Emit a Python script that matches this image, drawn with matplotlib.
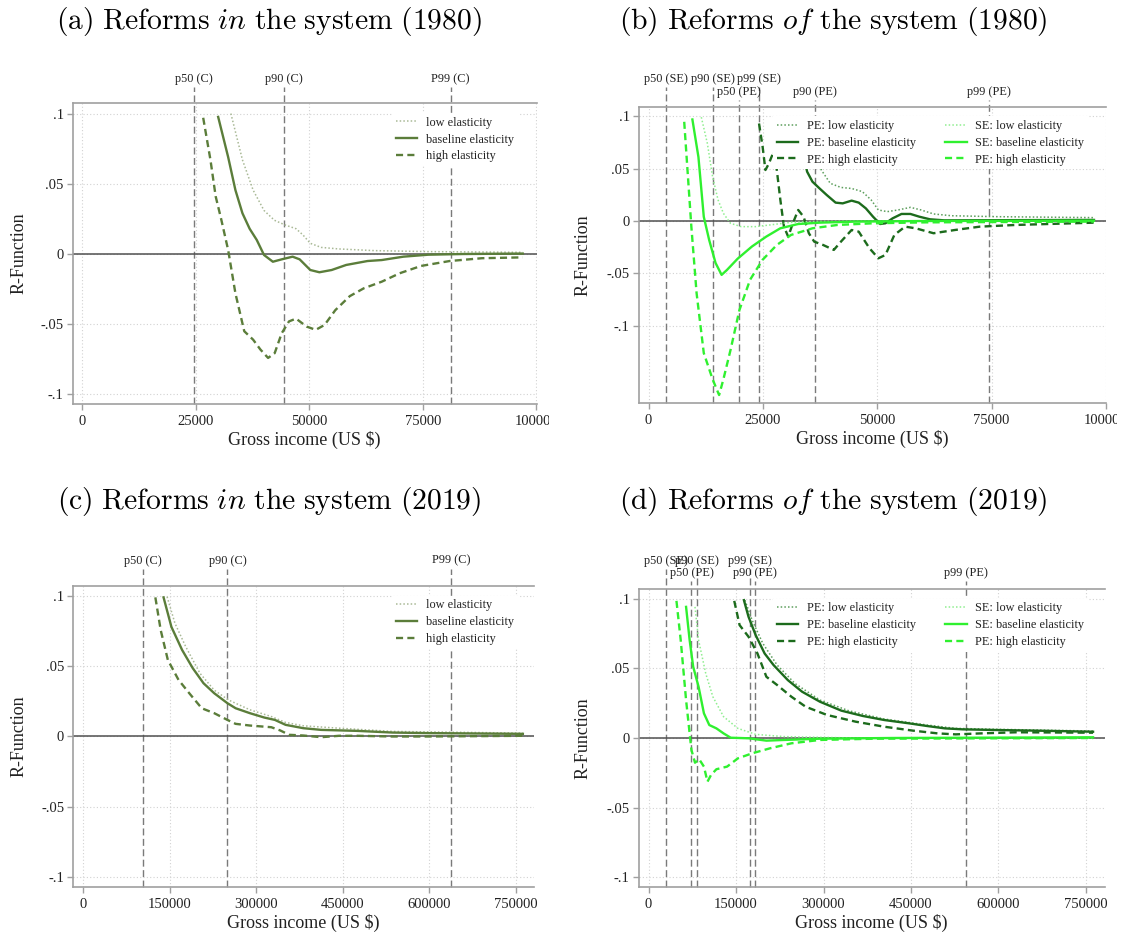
import matplotlib
matplotlib.use('Agg')
import matplotlib.pyplot as plt
from matplotlib.transforms import Bbox, blended_transform_factory

plt.rcParams['font.family'] = ['Liberation Serif', 'DejaVu Serif']
plt.rcParams['mathtext.fontset'] = 'cm'

# ---------------- data ----------------
# Panel (a): reforms in the system, 1980
a_low_x = [32700, 35250, 37600, 40000, 42300, 44700, 47060, 48600, 50200, 52600, 56500, 64400, 76200, 97000]
a_low_y = [0.1, 0.067, 0.0455, 0.031, 0.024, 0.0206, 0.018, 0.0135, 0.0076, 0.0047, 0.0036, 0.0024, 0.0017, 0.0012]
a_base_x = [29900, 32100, 33700, 35250, 36830, 38400, 40000, 41950, 43900, 46300, 47850, 50200, 52200, 54900,
            58100, 62800, 65950, 70700, 76200, 84000, 97000]
a_base_y = [0.0976, 0.069, 0.0455, 0.029, 0.018, 0.010, -0.0007, -0.0055, -0.0038, -0.0019, -0.0038, -0.0114,
            -0.013, -0.0114, -0.0078, -0.005, -0.0043, -0.0019, -0.0005, 0.0, 0.0003]
a_high_x = [26600, 28200, 29350, 30550, 32100, 33700, 35650, 37600, 39200, 40900, 42350, 43900, 45500, 47060,
            49400, 51400, 53350, 55700, 58900, 62000, 65950, 69900, 74600, 80900, 88000, 97000]
a_high_y = [0.097, 0.067, 0.041, 0.025, 0.0028, -0.028, -0.055, -0.061, -0.068, -0.074, -0.0706, -0.0564, -0.048,
            -0.046, -0.0517, -0.054, -0.0505, -0.040, -0.030, -0.0244, -0.0197, -0.0137, -0.0085, -0.005, -0.003,
            -0.0024]
a_pct_x = [24630, 44300, 81130]
a_pct_lab = ['p50 (C)', 'p90 (C)', 'P99 (C)']
a_pct_row = [0, 0, 0]

# Panel (b): reforms of the system, 1980
b_pe_low_x = [36500, 37780, 39730, 42060, 44400, 46740, 48690, 50250, 52200, 54530, 57260, 59590, 62320, 66220,
              76340, 97400]
b_pe_low_y = [0.07, 0.0486, 0.0359, 0.032, 0.031, 0.028, 0.02, 0.0105, 0.0089, 0.0105, 0.013, 0.0105, 0.0067,
              0.005, 0.0041, 0.0032]
b_pe_base_x = [33000, 34670, 35830, 37400, 38950, 40900, 42450, 44400, 45960, 47520, 49080, 50640, 51800, 53360,
               55310, 57260, 59200, 61540, 64660, 97400]
b_pe_base_y = [0.08, 0.047, 0.0375, 0.031, 0.0248, 0.0175, 0.0168, 0.0194, 0.0175, 0.012, 0.0041, -0.0029,
               -0.0022, 0.0025, 0.0067, 0.0067, 0.0041, 0.0016, 0.0006, 0.001]
b_pe_high_x = [24150, 24930, 25550, 26330, 26870, 27400, 28040, 28820, 29600, 30530, 31550, 32720, 33890, 35050,
               36220, 38170, 40510, 42070, 44400, 45960, 48300, 50250, 51800, 53750, 56090, 58430, 62320, 66990,
               72450, 80240, 97400]
b_pe_high_y = [0.093, 0.071, 0.0486, 0.055, 0.061, 0.066, 0.0486, 0.02, -0.0054, -0.015, -0.0022, 0.0105, 0.0041,
               -0.0117, -0.0197, -0.0229, -0.0276, -0.0197, -0.0086, -0.0102, -0.026, -0.0356, -0.0324, -0.0133,
               -0.0054, -0.007, -0.0117, -0.0086, -0.0054, -0.0038, -0.0016]
b_se_low_x = [11530, 12850, 14000, 15200, 16360, 17900, 20250, 23370, 26500, 31160, 37400, 97400]
b_se_low_y = [0.099, 0.074, 0.042, 0.02, 0.0073, -0.0022, -0.0054, -0.0054, -0.0038, -0.0013, -0.0003, 0.0]
b_se_base_x = [9580, 10900, 12070, 13240, 14640, 15970, 17140, 19470, 22590, 25700, 28800, 32700, 37400, 45200,
               60800, 97400]
b_se_base_y = [0.0968, 0.061, 0.004, -0.018, -0.040, -0.0514, -0.0467, -0.036, -0.0244, -0.015, -0.007, -0.0029,
               -0.0016, -0.0006, 0.0, 0.0003]
b_se_high_x = [7790, 9350, 10500, 12070, 14000, 15420, 16360, 17920, 19860, 22200, 24930, 28040, 31160, 35830,
               41290, 49080, 60760, 97400]
b_se_high_y = [0.0946, -0.0054, -0.069, -0.126, -0.151, -0.166, -0.151, -0.123, -0.085, -0.056, -0.037, -0.0229,
               -0.0133, -0.007, -0.0038, -0.0022, -0.0013, -0.0006]
b_pct_x = [3900, 14060, 24060, 19770, 36400, 74450]
b_pct_lab = ['p50 (SE)', 'p90 (SE)', 'p99 (SE)', 'p50 (PE)', 'p90 (PE)', 'p99 (PE)']
b_pct_row = [0, 0, 0, 1, 1, 1]

# Panel (c): reforms in the system, 2019
c_low_x = [145800, 159400, 178000, 202700, 227400, 252100, 289200, 326300, 351000, 381900, 443700, 536400, 762000]
c_low_y = [0.0995, 0.0806, 0.064, 0.045, 0.033, 0.026, 0.019, 0.0142, 0.010, 0.0076, 0.0059, 0.0036, 0.0024]
c_base_x = [139700, 153300, 171800, 190300, 208900, 227400, 250300, 264500, 289200, 314000, 332500, 351000,
            381900, 412800, 474600, 536400, 598200, 762000]
c_base_y = [0.099, 0.078, 0.0616, 0.0486, 0.0379, 0.0308, 0.0237, 0.0201, 0.0166, 0.0135, 0.0118, 0.0083, 0.0059,
            0.0047, 0.004, 0.0028, 0.0024, 0.0019]
c_high_x = [125500, 134700, 147100, 165600, 184200, 205800, 227400, 250300, 264500, 289200, 326300, 341800,
            357200, 381900, 412800, 443700, 474600, 536400, 598200, 762000]
c_high_y = [0.099, 0.0758, 0.0545, 0.0403, 0.0308, 0.0201, 0.0166, 0.0118, 0.009, 0.0078, 0.0066, 0.0043, 0.0012,
            0.0007, -0.0005, 0.0005, 0.0005, 0.0, 0.0, 0.0005]
c_pct_x = [103900, 250400, 637500]
c_pct_lab = ['p50 (C)', 'p90 (C)', 'P99 (C)']
c_pct_row = [0, 0, 0]

# Panel (d): reforms of the system, 2019
d_pe_low_x = [165300, 177500, 195900, 220400, 251000, 293900, 342800, 404000, 477500, 526500, 600000, 762200]
d_pe_low_y = [0.0988, 0.0845, 0.0678, 0.0523, 0.0391, 0.0272, 0.0196, 0.0136, 0.0093, 0.0069, 0.0062, 0.005]
d_pe_base_x = [163500, 171400, 183700, 199000, 214300, 238800, 263200, 293900, 330600, 367300, 404000, 446900,
               477500, 508100, 538700, 600000, 661200, 762200]
d_pe_base_y = [0.0988, 0.0869, 0.0737, 0.0606, 0.0523, 0.0415, 0.0332, 0.026, 0.0196, 0.0158, 0.0129, 0.0105,
               0.0086, 0.0069, 0.0062, 0.0057, 0.0053, 0.0045]
d_pe_high_x = [146900, 156100, 171400, 186700, 202000, 220400, 244900, 269400, 306100, 355100, 404000, 453000,
               495900, 526500, 569400, 630600, 762200]
d_pe_high_y = [0.0983, 0.0809, 0.0726, 0.0606, 0.0439, 0.038, 0.0296, 0.0224, 0.0165, 0.0117, 0.0081, 0.0053,
               0.0033, 0.0026, 0.0033, 0.0041, 0.0038]
d_se_low_x = [79600, 85700, 98000, 110200, 128600, 153100, 183700, 232600, 355100, 762200]
d_se_low_y = [0.094, 0.0702, 0.0463, 0.0296, 0.0153, 0.0069, 0.0026, 0.001, 0.0, 0.0]
d_se_base_x = [64300, 70400, 76500, 85700, 94900, 104100, 116300, 128600, 140800, 171400, 202000, 232600, 293900,
               416300, 762200]
d_se_base_y = [0.094, 0.0702, 0.0511, 0.0368, 0.0177, 0.0093, 0.0069, 0.0033, 0.0002, -0.0002, -0.0019, -0.0014,
               -0.0005, 0.0, 0.0005]
d_se_high_x = [47800, 55100, 64300, 70400, 73500, 79600, 86900, 94900, 101000, 107100, 116300, 134700, 153100,
               177500, 208100, 244900, 293900, 385700, 762200]
d_se_high_y = [0.0983, 0.0702, 0.0272, 0.0033, -0.0086, -0.0177, -0.0153, -0.0205, -0.0313, -0.0265, -0.0224,
               -0.0205, -0.0146, -0.011, -0.0074, -0.0038, -0.0014, -0.0005, 0.0]
d_pct_x = [29400, 83300, 173300, 73500, 182400, 543700]
d_pct_lab = ['p50 (SE)', 'p90 (SE)', 'p99 (SE)', 'p50 (PE)', 'p90 (PE)', 'p99 (PE)']
d_pct_row = [0, 0, 0, 1, 1, 1]

titles = [r'$\mathrm{(a)\ Reforms\ }\mathit{in}\mathrm{\ the\ system\ (1980)}$',
          r'$\mathrm{(b)\ Reforms\ }\mathit{of}\mathrm{\ the\ system\ (1980)}$',
          r'$\mathrm{(c)\ Reforms\ }\mathit{in}\mathrm{\ the\ system\ (2019)}$',
          r'$\mathrm{(d)\ Reforms\ }\mathit{of}\mathrm{\ the\ system\ (2019)}$']
legend_c = ['low elasticity', 'baseline elasticity', 'high elasticity']
legend_pe_se = ['PE: low elasticity', 'PE: baseline elasticity', 'PE: high elasticity',
                'SE: low elasticity', 'SE: baseline elasticity', 'PE: high elasticity']

ytick_vals = [0.1, 0.05, 0.0, -0.05, -0.1]
ytick_labs = ['.1', '.05', '0', '-.05', '-.1']
xt_1980 = [0, 25000, 50000, 75000, 100000]
xt_2019 = [0, 150000, 300000, 450000, 600000, 750000]

# ---------------- styles ----------------
OLIVE = '#5b7d3a'
OLIVE_LT = '#a9b996'
PE_C = '#1c6b1c'
PE_LT = '#5c9e5c'
SE_C = '#2ff02f'
SE_LT = '#90ee90'
GRIDC = '#d2d2d2'
SPINEC = '#a0a0a0'
PCTC = '#7a7a7a'
TXT = '#222222'

W, H = 1124, 939
fig = plt.figure(figsize=(W / 100, H / 100), dpi=100)
fig.patch.set_facecolor('white')


def add_axes(l, r, t, b):
    return fig.add_axes([l / W, 1 - b / H, (r - l) / W, (b - t) / H])


def style(ax, xlim, ylim, xticks, pos, ylab_px, clip_px=None):
    ax.set_xlim(xlim)
    ax.set_ylim(ylim)
    ax.set_xticks(xticks)
    ax.set_xticklabels([str(v) for v in xticks])
    ax.set_yticks(ytick_vals)
    ax.set_yticklabels(ytick_labs)
    ax.grid(True, color=GRIDC, linestyle=(0, (1, 2)), linewidth=0.8)
    ax.set_axisbelow(True)
    for s in ['left', 'bottom', 'top']:
        ax.spines[s].set_color(SPINEC)
        ax.spines[s].set_linewidth(1.2)
    ax.spines['right'].set_visible(False)
    ax.tick_params(axis='x', direction='out', length=4, width=1, color=SPINEC, labelsize=10.5, pad=4,
                   labelcolor=TXT)
    ax.tick_params(axis='y', direction='out', length=4.5, width=1, color=SPINEC, labelsize=10.5, pad=2,
                   labelcolor=TXT)
    ax.axhline(0, color='#505050', lw=1.1, zorder=1.8)
    ax.set_xlabel(r'Gross income (US \$)', fontsize=13, color=TXT)
    ax.set_ylabel('R-Function', fontsize=13, color=TXT)
    l, r, t, b = pos
    ax.yaxis.set_label_coords((ylab_px - l) / (r - l), 0.5)
    ax.xaxis.set_label_coords(0.5, -(36 - 9) / (b - t))
    if clip_px is not None:
        lab = ax.get_xticklabels()[-1]
        lab.set_clip_on(True)
        lab.set_clip_box(Bbox.from_extents(0, 0, clip_px, H))


def pct_lines(ax, xs, labs, rows, pos, row_y):
    l, r, t, b = pos
    tr = blended_transform_factory(ax.transData, fig.transFigure)
    for x, lab, row in zip(xs, labs, rows):
        ytxt = row_y[row]
        top = ytxt + 8
        ax.axvline(x, ymin=0, ymax=(b - top) / (b - t), color=PCTC, lw=1.0, ls=(0, (5, 2.5)),
                   clip_on=False, zorder=1.5)
        ax.text(x, 1 - ytxt / H, lab, transform=tr, ha='center', va='center', fontsize=8.8, color=TXT)


def legend(ax, handles, labels, ncol, ax_px, top_px, pos):
    l, r, t, b = pos
    leg = ax.legend(handles, labels, ncol=ncol, loc='upper left',
                    bbox_to_anchor=((ax_px - l) / (r - l), (b - top_px) / (b - t)),
                    borderaxespad=0, borderpad=0.3, fontsize=8.8, handlelength=1.75, handletextpad=0.7,
                    labelspacing=0.4, columnspacing=2.4, frameon=True, fancybox=False, framealpha=1)
    leg.get_frame().set_facecolor('white')
    leg.get_frame().set_edgecolor('none')
    for txt in leg.get_texts():
        txt.set_color(TXT)
    leg.set_zorder(5)


LW = 1.7
DASH = (0, (3, 1.8))
DOT = (0, (1, 1.4))

# ---------------- panel (a) ----------------
pos_a = (72.7, 536.8, 103.3, 404.0)
ax = add_axes(*pos_a)
style(ax, (-2150, 100100), (-0.1068, 0.1073), xt_1980, pos_a, 28, clip_px=549)
h1, = ax.plot(a_low_x, a_low_y, color=OLIVE_LT, lw=1.1, ls=DOT, zorder=3)
h2, = ax.plot(a_base_x, a_base_y, color=OLIVE, lw=LW, zorder=3)
h3, = ax.plot(a_high_x, a_high_y, color=OLIVE, lw=LW, ls=DASH, zorder=3)
pct_lines(ax, a_pct_x, a_pct_lab, a_pct_row, pos_a, [79, 91.7])
legend(ax, [h1, h2, h3], legend_c, 1, 392.3, 113.0, pos_a)

# ---------------- panel (b) ----------------
pos_b = (638.9, 1106.3, 106.7, 403.3)
ax = add_axes(*pos_b)
style(ax, (-2120, 100100), (-0.1739, 0.109), xt_1980, pos_b, 592, clip_px=1117)
g1, = ax.plot(b_pe_low_x, b_pe_low_y, color=PE_LT, lw=1.1, ls=DOT, zorder=3)
g2, = ax.plot(b_pe_base_x, b_pe_base_y, color=PE_C, lw=LW, zorder=3)
g3, = ax.plot(b_pe_high_x, b_pe_high_y, color=PE_C, lw=LW, ls=DASH, zorder=3)
g4, = ax.plot(b_se_low_x, b_se_low_y, color=SE_LT, lw=1.1, ls=DOT, zorder=3)
g5, = ax.plot(b_se_base_x, b_se_base_y, color=SE_C, lw=LW, zorder=3)
g6, = ax.plot(b_se_high_x, b_se_high_y, color=SE_C, lw=LW, ls=DASH, zorder=3)
pct_lines(ax, b_pct_x, b_pct_lab, b_pct_row, pos_b, [79, 91.7])
legend(ax, [g1, g2, g3, g4, g5, g6], legend_pe_se, 2, 773.3, 116.3, pos_b)

# ---------------- panel (c) ----------------
pos_c = (73.2, 534.0, 586.0, 886.7)
ax = add_axes(*pos_c)
style(ax, (-16800, 781300), (-0.1069, 0.1071), xt_2019, pos_c, 28)
k1, = ax.plot(c_low_x, c_low_y, color=OLIVE_LT, lw=1.1, ls=DOT, zorder=3)
k2, = ax.plot(c_base_x, c_base_y, color=OLIVE, lw=LW, zorder=3)
k3, = ax.plot(c_high_x, c_high_y, color=OLIVE, lw=LW, ls=DASH, zorder=3)
pct_lines(ax, c_pct_x, c_pct_lab, c_pct_row, pos_c, [560.7, 573.3])
legend(ax, [k1, k2, k3], legend_c, 1, 392.3, 595.5, pos_c)

# ---------------- panel (d) ----------------
pos_d = (638.9, 1104.6, 589.3, 886.7)
ax = add_axes(*pos_d)
style(ax, (-16600, 782000), (-0.1066, 0.1066), xt_2019, pos_d, 592)
m1, = ax.plot(d_pe_low_x, d_pe_low_y, color=PE_LT, lw=1.1, ls=DOT, zorder=3)
m2, = ax.plot(d_pe_base_x, d_pe_base_y, color=PE_C, lw=LW, zorder=3)
m3, = ax.plot(d_pe_high_x, d_pe_high_y, color=PE_C, lw=LW, ls=DASH, zorder=3)
m4, = ax.plot(d_se_low_x, d_se_low_y, color=SE_LT, lw=1.1, ls=DOT, zorder=3)
m5, = ax.plot(d_se_base_x, d_se_base_y, color=SE_C, lw=LW, zorder=3)
m6, = ax.plot(d_se_high_x, d_se_high_y, color=SE_C, lw=LW, ls=DASH, zorder=3)
pct_lines(ax, d_pct_x, d_pct_lab, d_pct_row, pos_d, [560.7, 573.3])
legend(ax, [m1, m2, m3, m4, m5, m6], legend_pe_se, 2, 773.3, 598.5, pos_d)

# ---------------- titles ----------------
for (cx, cy), ttl in zip([(269, 22), (833, 22), (269, 502), (833, 502)], titles):
    fig.text(cx / W, 1 - cy / H, ttl, ha='center', va='center', fontsize=21.3, color='black')

fig.savefig('out.png', dpi=100, facecolor='white')
